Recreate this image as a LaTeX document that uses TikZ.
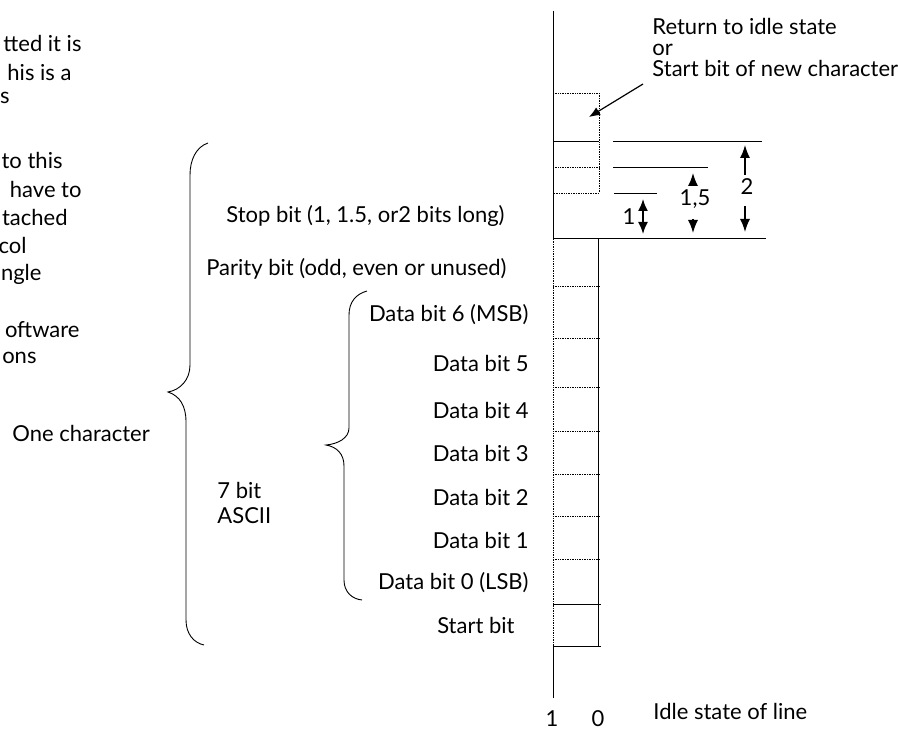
\documentclass[tikz,border=0pt]{standalone}
\usepackage{fontspec}
\setmainfont{Lato}
\usetikzlibrary{arrows.meta,positioning}

\begin{document}
\begin{tikzpicture}[x=1pt,y=-1pt,line width=0.9pt,
    lbl/.style={font=\fontsize{22}{21}\selectfont, inner sep=0pt},
    side/.style={font=\fontsize{22}{25}\selectfont, inner sep=0pt},
    bitline/.style={densely dotted, line width=0.7pt},
    tip/.style={-{Latex[length=13pt,width=10pt]}, line width=1.4pt}]
  \useasboundingbox (0,0) rectangle (898,730);

  % text cut off at the left edge
  \node[side, anchor=east] (cut1) at (82,43) {tted it is};
  \node[side, anchor=east] (cut2) at (72,72) {his is a};
  \node[side, anchor=east] (cut3) at (10,98) {s};
  \node[side, anchor=east] (cut4) at (63,160) {to this};
  \node[side, anchor=east] (cut5) at (82,189) {have to};
  \node[side, anchor=east] (cut6) at (68,217) {tached};
  \node[side, anchor=east] (cut7) at (27,245) {col};
  \node[side, anchor=east] (cut8) at (42,274) {ngle};
  \node[side, anchor=east] (cut9) at (80,330) {oftware};
  \node[side, anchor=east] (cut10) at (37,358) {ons};

  % braces
  \draw (208,143) .. controls (196,147) and (190,160) .. (190,175) -- (190,365)
        .. controls (190,380) and (180,390) .. (168,392)
        .. controls (180,396) and (186,406) .. (186,422) -- (186,620)
        .. controls (186,634) and (194,643) .. (204,645);
  \draw (367,291) .. controls (356,294) and (349,302) .. (349,315) -- (349,428)
        .. controls (349,438) and (338,444) .. (326,445)
        .. controls (337,447) and (344,454) .. (344,466) -- (344,580)
        .. controls (344,592) and (352,599) .. (362,600);
  \node[side, anchor=west] (onechar) at (12,433) {One character};
  \node[side, anchor=west, align=left] (ascii) at (217,503) {7 bit\\ASCII};

  % bit labels
  \node[lbl, anchor=east] (stop) at (505,216) {Stop bit (1, 1.5, or2 bits long)};
  \node[lbl, anchor=east] (parity) at (507,269) {Parity bit (odd, even or unused)};
  \foreach \txt/\y [count=\n] in {Data bit 6 (MSB)/315, Data bit 5/363, Data bit 4/410,
      Data bit 3/453, Data bit 2/497, Data bit 1/540, Data bit 0 (LSB)/583}
    \node[lbl, anchor=east] (data\n) at (529,\y) {\txt};
  \node[lbl, anchor=east] (start) at (515,625) {Start bit};

  % line levels
  \draw (553,698) -- (553,646) -- (601,646);
  \draw (598,646) -- (598,238);
  \draw (553,604) -- (601,604);
  \draw[bitline] (553,646) -- (553,238);
  \foreach \y in {286,338,387,431,474,516,559}
    \draw[bitline] (553,\y) -- (600,\y);
  \draw (553,11) -- (553,238) -- (766,238);
  \draw (553,141) -- (599,141);
  \draw[bitline] (553,93) -- (599,93) -- (599,193) -- (553,193);
  \draw[bitline] (553,167) -- (599,167);
  \node[lbl] (one) at (552,719) {1};
  \node[lbl] (zero) at (598,719) {0};
  \node[lbl, anchor=west] (idle) at (653,711) {Idle state of line};

  % stop bit lengths
  \draw (613,141) -- (762,141);
  \draw (613,167) -- (708,167);
  \draw (614,193) -- (657,193);
  \draw[{Latex[length=12pt,width=10pt]}-{Latex[length=12pt,width=10pt]}, line width=1.8pt] (643,199) -- (643,234);
  \node[lbl] (len1) at (629,217) {1};
  \draw[tip] (693,186) -- (693,173);
  \draw[tip] (693,219) -- (693,233);
  \node[lbl] (len15) at (695,199) {1,5};
  \draw[tip] (745,175) -- (745,145);
  \draw[tip] (745,206) -- (745,232);
  \node[lbl] (len2) at (747,187) {2};

  % return to idle
  \node[lbl, anchor=west, align=left] (ret) at (652,47) {Return to idle state\\or\\Start bit of new character};
  \coordinate (retfoot) at (643,84);
  \coordinate (newbit) at (589,117);
  \draw[-{Latex[length=11pt,width=9pt]}, line width=1.2pt] (retfoot) -- (newbit);
\end{tikzpicture}
\end{document}
